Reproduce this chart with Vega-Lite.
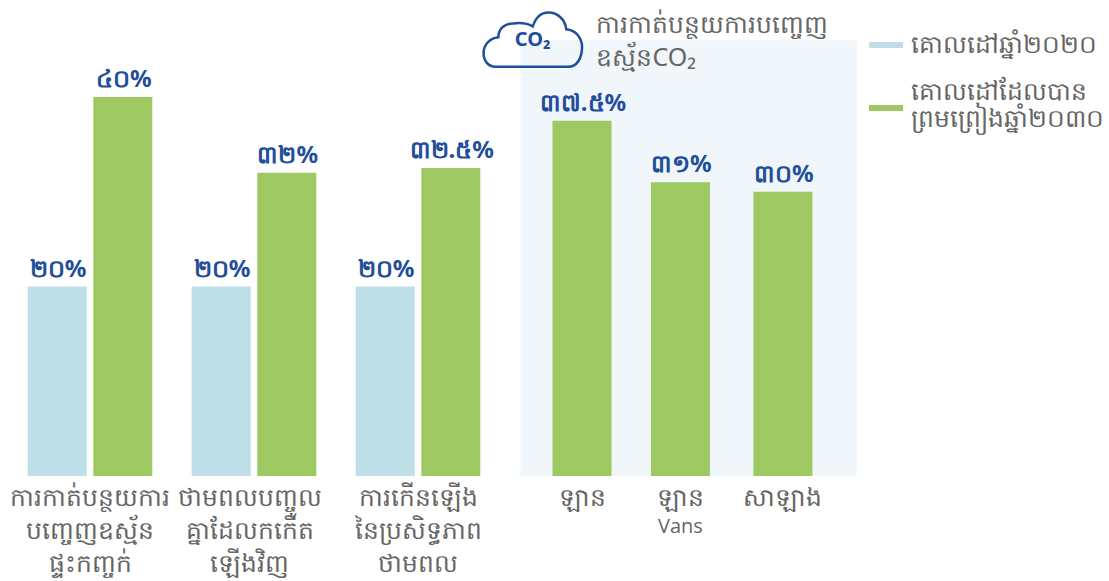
{"$schema":"https://vega.github.io/schema/vega-lite/v6.json","width":1109,"height":581,"padding":0,"autosize":"none","background":"white","config":{"view":{"stroke":null},"font":"Noto Sans"},"datasets":{"bars":[{"key":"b1","series":"គោលដៅឆ្នាំ២០២០","value":20,"label":"២០%"},{"key":"b2","series":"គោលដៅដែលបាន\nព្រមព្រៀងឆ្នាំ២០៣០","value":40,"label":"៤០%"},{"key":"b3","series":"គោលដៅឆ្នាំ២០២០","value":20,"label":"២០%"},{"key":"b4","series":"គោលដៅដែលបាន\nព្រមព្រៀងឆ្នាំ២០៣០","value":32,"label":"៣២%"},{"key":"b5","series":"គោលដៅឆ្នាំ២០២០","value":20,"label":"២០%"},{"key":"b6","series":"គោលដៅដែលបាន\nព្រមព្រៀងឆ្នាំ២០៣០","value":32.5,"label":"៣២.៥%"},{"key":"b7","series":"គោលដៅដែលបាន\nព្រមព្រៀងឆ្នាំ២០៣០","value":37.5,"label":"៣៧.៥%"},{"key":"b8","series":"គោលដៅដែលបាន\nព្រមព្រៀងឆ្នាំ២០៣០","value":31,"label":"៣១%"},{"key":"b9","series":"គោលដៅដែលបាន\nព្រមព្រៀងឆ្នាំ២០៣០","value":30,"label":"៣០%"}],"groups":[{"key":"g1","text":"ការកាត់បន្ថយការ\nបញ្ចេញឧស្ម័ន\nផ្ទះកញ្ចក់"},{"key":"g2","text":"ថាមពលបញ្ចូល\nគ្នាដែលកកើត\nឡើងវិញ"},{"key":"g3","text":"ការកើនឡើង\nនៃប្រសិទ្ធភាព\nថាមពល"},{"key":"b7","text":"ឡាន"},{"key":"b8","text":"ឡាន"},{"key":"b9","text":"សាឡាង"}]},"data":{"name":"bars"},"encoding":{"x":{"field":"key","type":"nominal","axis":null,"scale":{"type":"point","padding":0,"range":[57.2,856.7],"domain":["b1","a1","a2","a3","a4","a5","a6","a7","g1","a9","a10","a11","a12","a13","a14","a15","b2","a17","a18","a19","a20","a21","a22","a23","a24","a25","a26","a27","a28","a29","a30","a31","a32","a33","a34","a35","a36","a37","a38","a39","b3","a41","a42","a43","a44","a45","a46","g2","a48","a49","a50","a51","a52","a53","a54","a55","b4","a57","a58","a59","a60","a61","a62","a63","a64","a65","a66","a67","a68","a69","a70","a71","a72","a73","a74","a75","a76","a77","a78","a79","b5","a81","a82","a83","a84","a85","a86","a87","g3","a89","a90","a91","a92","a93","a94","a95","b6","a97","a98","a99","a100","a101","a102","a103","a104","a105","a106","a107","a108","a109","a110","a111","a112","panelStart","a114","a115","cloud","a117","a118","a119","a120","a121","a122","a123","a124","a125","a126","a127","b7","a129","a130","a131","note","a133","a134","a135","a136","a137","a138","a139","a140","a141","a142","a143","a144","a145","a146","a147","a148","a149","a150","a151","b8","a153","a154","a155","a156","a157","a158","a159","a160","a161","a162","a163","a164","a165","a166","a167","a168","a169","a170","a171","a172","a173","a174","a175","a176","b9","a178","a179","a180","a181","a182","a183","a184","a185","a186","a187","a188","a189","a190","a191","a192","a193","a194","panelEnd"]}},"y":{"field":"value","type":"quantitative","axis":null,"scale":{"domain":[-11.08,50.24],"range":[581,0],"nice":false,"zero":false,"clamp":false}}},"layer":[{"data":{"values":[{"key":"panelStart","end":"panelEnd","top":46,"bottom":0}]},"mark":{"type":"rect","fill":"#f0f6fa"},"encoding":{"x2":{"field":"end"},"y":{"field":"top","type":"quantitative"},"y2":{"field":"bottom"}}},{"mark":{"type":"bar","width":59},"encoding":{"y2":{"datum":0},"color":{"field":"series","type":"nominal","scale":{"domain":["គោលដៅឆ្នាំ២០២០","គោលដៅដែលបាន\nព្រមព្រៀងឆ្នាំ២០៣០"],"range":["#bfdfe8","#9ec862"]},"legend":{"title":null,"orient":"none","legendX":869,"legendY":28,"padding":0,"symbolType":"M-1,-.18H1V.18H-1Z","symbolSize":1156,"symbolStrokeWidth":0,"symbolOpacity":1,"labelFontSize":25,"labelColor":"#666666","labelFont":"Noto Sans","labelLimit":260,"labelOffset":8,"rowPadding":22,"labelExpr":"split(datum.label,'\\n')","labelLineHeight":32,"encode":{"labels":{"update":{"dy":{"signal":"datum.index==1?-16:0"}}}}}}}},{"mark":{"type":"text","align":"center","baseline":"bottom","dy":-5,"dx":1,"fontSize":24,"fontWeight":"bold","color":"#1f4e9a"},"encoding":{"text":{"field":"label"}}},{"data":{"name":"groups"},"transform":[{"calculate":"0","as":"base"}],"mark":{"type":"text","align":"center","baseline":"top","dy":10,"fontSize":25,"color":"#666666","lineBreak":"\n","lineHeight":33},"encoding":{"y":{"field":"base","type":"quantitative"},"text":{"field":"text"}}},{"data":{"values":[{"key":"b8","level":-5.4,"text":"Vans"}]},"mark":{"type":"text","align":"center","baseline":"middle","fontSize":20,"font":"Open Sans","color":"#666666"},"encoding":{"y":{"field":"level","type":"quantitative"},"text":{"field":"text"}}},{"data":{"values":[{"key":"cloud","level":46}]},"mark":{"type":"point","shape":"M-.76,.54C-.9,.54-1,.42-1,.26C-1,.1-.88,-.04-.7,-.06C-.7,-.24-.56,-.34-.4,-.34C-.24,-.36-.1,-.34,0,-.28C.06,-.46.18,-.56.32,-.56C.5,-.56.66,-.42.68,-.22C.88,-.2,1,-.04,1,.14C1,.36.9,.54.72,.54Z","size":9700,"filled":false,"stroke":"#1f4e9a","strokeWidth":2.5,"opacity":1},"encoding":{"y":{"field":"level","type":"quantitative"}}},{"data":{"values":[{"key":"cloud","level":46,"text":"CO₂"}]},"mark":{"type":"text","align":"center","baseline":"middle","fontSize":20,"fontWeight":"bold","font":"Noto Sans","color":"#1f4e9a"},"encoding":{"y":{"field":"level","type":"quantitative"},"text":{"field":"text"}}},{"data":{"values":[{"key":"note","level":47.6,"text":"ការកាត់បន្ថយការបញ្ចេញ\nឧស្ម័នCO₂"}]},"mark":{"type":"text","align":"left","baseline":"middle","dx":-2,"fontSize":25,"color":"#666666","lineBreak":"\n","lineHeight":33},"encoding":{"y":{"field":"level","type":"quantitative"},"text":{"field":"text"}}}]}
